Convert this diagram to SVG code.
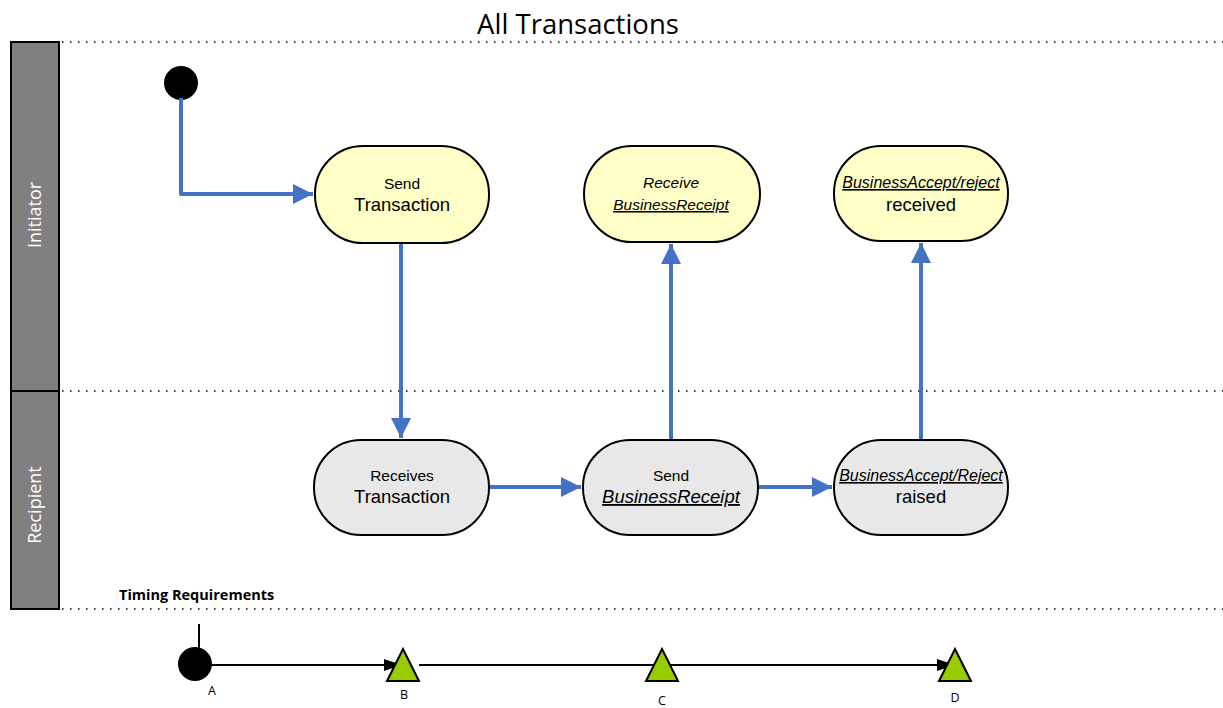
<svg xmlns="http://www.w3.org/2000/svg" width="1223" height="708" viewBox="0 0 1223 708">
<defs>
<style>
.lane{fill:#808080;stroke:#000;stroke-width:2}
.lanelbl{font-family:"Open Sans","Liberation Sans",sans-serif;font-size:18px;fill:#fff;text-anchor:middle}
.dot{stroke:#000;stroke-width:1.5;stroke-dasharray:1.5 6.5;fill:none}
.ini{fill:#FFFFC8;stroke:#000;stroke-width:2}
.rec{fill:#E8E8E8;stroke:#000;stroke-width:2}
.t{font-family:"Liberation Sans",Arial,sans-serif;fill:#000;text-anchor:middle}
.s{font-size:15.5px}
.b{font-size:18.5px}
.si{font-size:16px}
.i{font-style:italic}
.u{text-decoration:underline}
.flow{stroke:#4472C4;stroke-width:4;fill:none;stroke-linejoin:round}
.tl{stroke:#000;stroke-width:2;fill:none}
.tri{fill:#99CC00;stroke:#000;stroke-width:2;stroke-linejoin:miter}
.lbl{font-family:"Open Sans","Liberation Sans",sans-serif;font-size:12.5px;fill:#000;text-anchor:middle}
</style>
<marker id="ab" markerUnits="userSpaceOnUse" markerWidth="22" markerHeight="22" refX="20" refY="10" orient="auto">
<path d="M0,0 L20,10 L0,20 Z" fill="#4472C4"/>
</marker>
<marker id="ak" markerUnits="userSpaceOnUse" markerWidth="20" markerHeight="14" refX="18" refY="6" orient="auto">
<path d="M0,0 L18,6 L0,12 Z" fill="#000"/>
</marker>
</defs>
<rect width="1223" height="708" fill="#fff"/>
<text x="578" y="34" font-family="'Open Sans','Liberation Sans',sans-serif" font-size="27.5" text-anchor="middle" fill="#000">All Transactions</text>
<g id="lanes">
<rect class="lane" x="11" y="42" width="48" height="349"/>
<rect class="lane" x="11" y="391" width="48" height="218"/>
<text class="lanelbl" transform="translate(41,215) rotate(-90)">Initiator</text>
<text class="lanelbl" transform="translate(41,505) rotate(-90)">Recipient</text>
<line class="dot" x1="62" y1="42" x2="1223" y2="42"/>
<line class="dot" x1="62" y1="391" x2="1223" y2="391"/>
<line class="dot" x1="62" y1="609" x2="1223" y2="609"/>
</g>
<g id="start"><circle cx="181" cy="83" r="17" fill="#000"/></g>
<g id="connectors">
<path class="flow" d="M181,98 V194 H313" marker-end="url(#ab)"/>
<path class="flow" d="M401,243 V438" marker-end="url(#ab)"/>
<path class="flow" d="M489,487 H581" marker-end="url(#ab)"/>
<path class="flow" d="M758,487 H832" marker-end="url(#ab)"/>
<path class="flow" d="M671,440 V244" marker-end="url(#ab)"/>
<path class="flow" d="M921,440 V243" marker-end="url(#ab)"/>
</g>
<g id="n-send-transaction">
<rect class="ini" x="315" y="146" width="174" height="97" rx="48" ry="48"/>
<text class="t s" x="402" y="189">Send</text>
<text class="t b" x="402" y="211">Transaction</text>
</g>
<g id="n-receive-businessreceipt">
<rect class="ini" x="584" y="146" width="176" height="96" rx="48" ry="48"/>
<text class="t s i" x="671" y="188">Receive</text>
<text class="t s i u" x="671" y="210">BusinessReceipt</text>
</g>
<g id="n-accept-received">
<rect class="ini" x="834" y="146" width="174" height="95" rx="47" ry="47"/>
<text class="t si i u" x="921" y="188">BusinessAccept/reject</text>
<text class="t b" x="921" y="211">received</text>
</g>
<g id="n-receives-transaction">
<rect class="rec" x="314" y="440" width="175" height="95" rx="47" ry="47"/>
<text class="t s" x="402" y="481">Receives</text>
<text class="t b" x="402" y="503">Transaction</text>
</g>
<g id="n-send-businessreceipt">
<rect class="rec" x="583" y="440" width="175" height="95" rx="47" ry="47"/>
<text class="t s" x="671" y="481">Send</text>
<text class="t b i u" x="671" y="503">BusinessReceipt</text>
</g>
<g id="n-accept-raised">
<rect class="rec" x="834" y="440" width="174" height="95" rx="47" ry="47"/>
<text class="t si i u" x="921" y="481">BusinessAccept/Reject</text>
<text class="t b" x="921" y="503">raised</text>
</g>
<g id="timing">
<text x="119" y="600" font-family="'Open Sans','Liberation Sans',sans-serif" font-size="14.5" font-weight="bold" fill="#000">Timing Requirements</text>
<line class="tl" x1="199" y1="624" x2="199" y2="648"/>
<line class="tl" x1="205" y1="665" x2="402" y2="665" marker-end="url(#ak)"/>
<line class="tl" x1="419" y1="665" x2="955" y2="665" marker-end="url(#ak)"/>
<circle cx="195" cy="664" r="17" fill="#000"/>
<polygon class="tri" points="403,649 419,681 387,681"/>
<polygon class="tri" points="662,649 678,681 646,681"/>
<polygon class="tri" points="955,649 971,681 939,681"/>
<text class="lbl" x="212" y="695">A</text>
<text class="lbl" x="404" y="699">B</text>
<text class="lbl" x="662" y="705">C</text>
<text class="lbl" x="955" y="702">D</text>
</g>
</svg>
